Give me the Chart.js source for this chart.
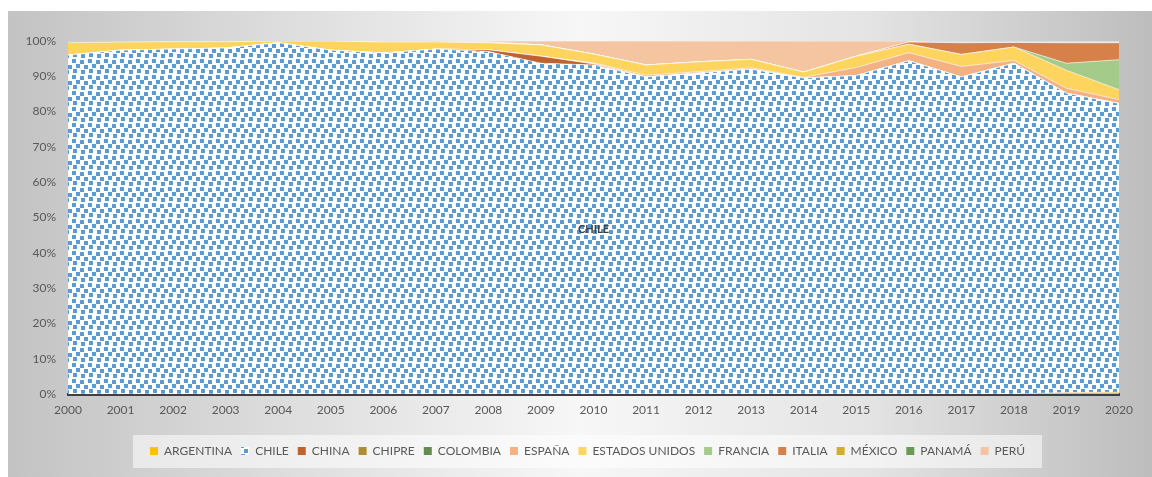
<!DOCTYPE html>
<html>
<head>
<meta charset="utf-8">
<script src="https://cdn.jsdelivr.net/npm/chart.js@4/dist/chart.umd.min.js"></script>
<style>
  html, body { margin: 0; padding: 0; background: #fff; }
  #frame {
    position: absolute; left: 8px; top: 11px; width: 1144px; height: 466px;
    background: linear-gradient(90deg, #c3c3c3 0%, #dedede 25%, #f7f7f7 50%, #e4e4e4 75%, #bdbdbd 100%);
  }
</style>
</head>
<body>
<div id="frame"><canvas id="chart"></canvas></div>
<script>
const years = ['2000','2001','2002','2003','2004','2005','2006','2007','2008','2009','2010',
               '2011','2012','2013','2014','2015','2016','2017','2018','2019','2020'];

// shares per year, %
const argentina = [0,0,0,0,0,0,0,0,0,0,0,0,0,0,0,0,0,0,0,0.4,0.5];
const chile     = [96,97.4,97.7,98,99.5,97.4,96.6,97.7,97,93.7,93.2,89.8,90.9,92,89.5,90.2,94.4,89.8,93.7,84.8,81.8];
const china     = [0,0,0,0,0,0,0,0,0.5,2,0.3,0,0,0,0,0,0,0,0,0,0];
const chipre    = [0,0,0,0,0,0,0,0,0,0,0,0,0,0,0,0,0,0,0,0,0];
const colombia  = [0,0,0,0,0,0,0,0,0,0,0,0,0,0,0,0,0,0,0,0,0];
const espana    = [0,0,0,0,0,0,0,0,0,0,0.3,0.5,0.4,0.4,0.2,2.3,2.3,3,0.8,1.4,1.1];
const eeuu      = [3.5,2.3,2.1,1.8,0.5,2.6,3.1,2,2,3.2,2.5,2.9,2.8,2.4,1.5,3.2,2.4,3.4,3.8,5.1,2.8];
const francia   = [0.5,0.3,0.2,0.2,0,0,0,0,0,0,0,0,0,0,0,0,0,0,0,2,8.5];
const italia    = [0,0,0,0,0,0,0,0,0,0,0,0,0,0,0,0,0.6,3.3,1.3,5.8,4.8];
const mexico    = [0,0,0,0,0,0,0.3,0.3,0.2,0,0,0,0,0,0,0,0,0,0,0,0];
const panama    = [0,0,0,0,0,0,0,0,0,0,0,0,0,0,0,0,0,0,0,0,0];
const peru      = [0,0,0,0,0,0,0,0,0.3,1.1,3.7,6.8,5.9,5.2,8.8,4.3,0.3,0.5,0.4,0.5,0.5];

const yTicks = [0,10,20,30,40,50,60,70,80,90,100];

// blue confetti fill used by CHILE
function makeConfetti() {
    const c = document.createElement('canvas');
    c.width = 16; c.height = 16;
    const g = c.getContext('2d');
    g.fillStyle = '#fff';
    g.fillRect(0, 0, 16, 16);
    g.fillStyle = '#5b9bd5';
    [[0,0],[8,1],[4,5],[12,6],[1,10],[9,11]].forEach(([x, y]) => g.fillRect(x, y, 4, 4));
    return g.createPattern(c, 'repeat');
}

const ctx = document.getElementById('chart').getContext('2d');
const confetti = makeConfetti();

const series = [
    ['ARGENTINA', argentina, '#ffc000'],
    ['CHILE', chile, confetti],
    ['CHINA', china, '#c0622e'],
    ['CHIPRE', chipre, '#b08d2e'],
    ['COLOMBIA', colombia, '#638c50'],
    ['ESPAÑA', espana, '#f4b183'],
    ['ESTADOS UNIDOS', eeuu, '#fcd45e'],
    ['FRANCIA', francia, '#a5cb8b'],
    ['ITALIA', italia, '#d6814a'],
    ['MÉXICO', mexico, '#d4ac2e'],
    ['PANAMÁ', panama, '#6b9a56'],
    ['PERÚ', peru, '#f5c5a2']
];

// nudge the legend right so it sits centred like the original
const legendShift = {
    id: 'legendShift',
    afterLayout(chart) {
        chart.legend.left += 24;
        chart.legend.right += 24;
    }
};

const legendBg = {
    id: 'legendBg',
    beforeDraw(chart) {
        const lg = chart.legend;
        if (!lg || !lg.legendHitBoxes.length) return;
        const boxes = lg.legendHitBoxes;
        const left = boxes[0].left - 17;
        const last = boxes[boxes.length - 1];
        const right = last.left + last.width + 17;
        const cy = boxes[0].top + boxes[0].height / 2;
        const c = chart.ctx;
        c.save();
        c.fillStyle = 'rgba(255,255,255,0.55)';
        c.fillRect(left, cy - 16, right - left, 33);
        c.restore();
    }
};

const chileLabel = {
    id: 'chileLabel',
    afterDatasetsDraw(chart) {
        const i = 10;
        const x = chart.scales.x.getPixelForValue(i);
        const y = chart.scales.y.getPixelForValue(argentina[i] + chile[i] / 2);
        const c = chart.ctx;
        c.save();
        c.font = 'bold 11px Lato, "Open Sans", sans-serif';
        c.fillStyle = '#404040';
        c.textAlign = 'center';
        c.textBaseline = 'middle';
        c.fillText('CHILE', x, y);
        c.restore();
    }
};

new Chart(ctx, {
    type: 'line',
    data: {
        labels: years,
        datasets: series.map(([name, vals, col], k) => ({
            label: name,
            data: vals,
            backgroundColor: col,
            borderColor: 'rgba(255,255,255,0.6)',
            borderWidth: 1,
            pointRadius: 0,
            tension: 0,
            fill: k === 0 ? 'origin' : '-1'
        }))
    },
    options: {
        responsive: true, maintainAspectRatio: false, animation: false,
        layout: { padding: { left: 0, top: 30, right: 33, bottom: 10 } },
        scales: {
            x: {
                offset: false,
                grid: { display: false, drawTicks: false },
                border: { display: true, color: '#404040', width: 3 },
                ticks: { color: '#595959', font: { size: 12, family: 'Lato, "Open Sans", sans-serif' }, padding: 9, maxRotation: 0, autoSkip: false },
                afterFit: s => { s.height = 42; }
            },
            y: {
                stacked: true, min: 0, max: 100,
                afterBuildTicks: s => { s.ticks = yTicks.map(v => ({ value: v })); },
                grid: { display: false, drawTicks: false },
                border: { display: false },
                ticks: { color: '#595959', font: { size: 12, family: 'Lato, "Open Sans", sans-serif' }, padding: 12, callback: v => v + '%' },
                afterFit: s => { s.width = 60; }
            }
        },
        plugins: {
            tooltip: { enabled: false },
            legend: {
                position: 'bottom',
                labels: {
                    color: '#595959',
                    font: { size: 12, family: 'Lato, "Open Sans", sans-serif' },
                    boxWidth: 8, boxHeight: 8, padding: 9,
                    generateLabels: chart => chart.data.datasets.map((d, i) => ({
                        text: d.label, fillStyle: d.backgroundColor, strokeStyle: 'rgba(0,0,0,0)',
                        lineWidth: 0, fontColor: '#595959', datasetIndex: i, hidden: false
                    }))
                }
            }
        }
    },
    plugins: [legendShift, legendBg, chileLabel]
});
</script>
</body>
</html>
